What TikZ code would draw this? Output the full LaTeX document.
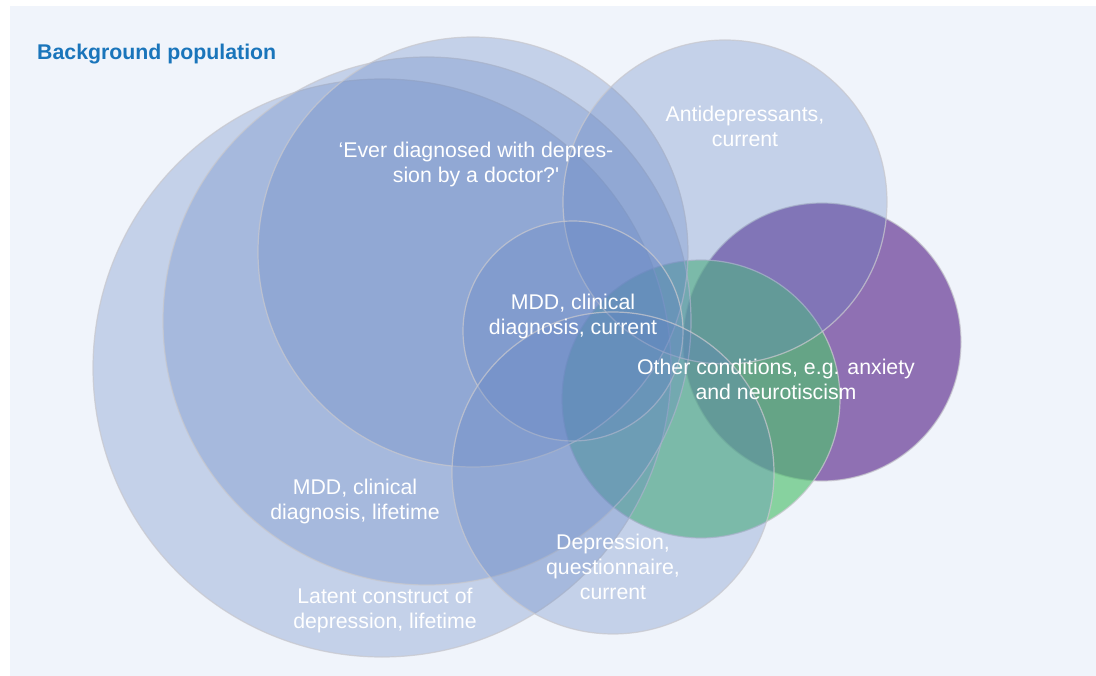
\documentclass[tikz,border=0pt]{standalone}
\usepackage{fontspec}
\setmainfont{Liberation Sans}
\definecolor{bgc}{RGB}{240,244,251}
\definecolor{vblue}{RGB}{97,131,194}
\definecolor{vpurple}{RGB}{119,79,162}
\definecolor{vgreen}{RGB}{80,193,111}
\definecolor{ringc}{RGB}{200,200,206}
\definecolor{titlec}{RGB}{26,117,187}
\tikzset{
  venn/.style={circle, inner sep=0pt, draw=ringc, draw opacity=0.75, line width=1.2pt},
  bluec/.style={venn, fill=vblue, fill opacity=0.3},
  purplec/.style={venn, fill=vpurple, fill opacity=0.8},
  greenc/.style={venn, fill=vgreen, fill opacity=0.65},
  lbl/.style={text=white, align=center, inner sep=0pt, font=\fontsize{21.3}{25}\selectfont}
}
\begin{document}
\begin{tikzpicture}[x=1pt,y=-1pt]
\useasboundingbox (0,0) rectangle (1096,676);
\fill[white] (0,0) rectangle (1096,676);
\fill[bgc] (10,6) rectangle (1096,676);
% coloured circles
\node[purplec, minimum size=278pt] (other) at (822,342) {};
\node[greenc, minimum size=278pt] (otherb) at (701,399) {};
% blue circles
\node[bluec, minimum size=578pt] (latent) at (382,368) {};
\node[bluec, minimum size=528pt] (mddlife) at (427,321) {};
\node[bluec, minimum size=430pt] (ever) at (473,252) {};
\node[bluec, minimum size=324pt] (anti) at (725,202) {};
\node[bluec, minimum size=220pt] (mddcur) at (573,331) {};
\node[bluec, minimum size=322pt] (quest) at (613,473) {};
% labels
\node[anchor=west, inner sep=0pt, text=titlec, font=\fontsize{21.3}{25}\selectfont\bfseries] (title) at (37,54) {Background population};
\node[lbl] (tever) at (476,164) {‘Ever diagnosed with depres-\\sion by a doctor?\textquotesingle};
\node[lbl] (tanti) at (745,126) {Antidepressants,\\current};
\node[lbl] (tmddcur) at (573,316) {MDD, clinical\\diagnosis, current};
\node[lbl] (tother) at (776,379) {Other conditions, e.g. anxiety\\and neurotiscism};
\node[lbl] (tmddlife) at (355,501) {MDD, clinical\\diagnosis, lifetime};
\node[lbl] (tlatent) at (385,611) {Latent construct of\\depression, lifetime};
\node[lbl] (tquest) at (613,567) {Depression,\\questionnaire,\\current};
\end{tikzpicture}
\end{document}
